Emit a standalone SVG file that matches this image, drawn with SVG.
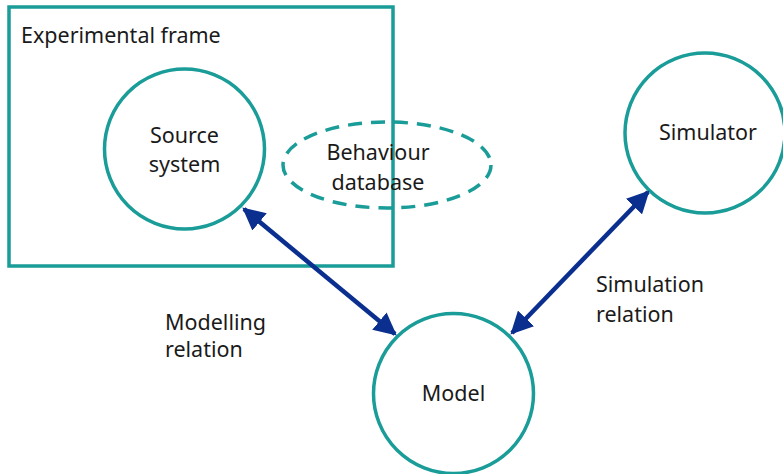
<svg xmlns="http://www.w3.org/2000/svg" width="783" height="474" viewBox="0 0 783 474">
<defs>
<style>
.n{fill:#fff;stroke:#1a9c98;stroke-width:3.5}
.d{fill:none;stroke:#1a9c98;stroke-width:3.5;stroke-dasharray:14 9}
.t{font-family:"Noto Sans","Liberation Sans",sans-serif;font-size:21.5px;fill:#1a1a1a}
.m{text-anchor:middle}
.c{stroke:#0a2f8f;stroke-width:4.5;fill:none}
</style>
<marker id="ah" viewBox="0 0 10 10" refX="9" refY="5" markerWidth="5" markerHeight="5" orient="auto-start-reverse" markerUnits="strokeWidth">
<path d="M0,0 L10,5 L0,10 z" fill="#0a2f8f"/>
</marker>
</defs>
<rect width="783" height="474" fill="#fff"/>
<g id="frame">
<rect x="9" y="7" width="384" height="259" fill="none" stroke="#1a9c98" stroke-width="3.5"/>
<text class="t" x="21" y="43">Experimental frame</text>
</g>
<g id="source">
<circle class="n" cx="184.5" cy="149" r="80"/>
<text class="t m" x="184.5" y="143">Source</text>
<text class="t m" x="184.5" y="172">system</text>
</g>
<g id="database">
<ellipse class="d" cx="387" cy="165" rx="104" ry="43"/>
<text class="t m" x="378" y="160">Behaviour</text>
<text class="t m" x="378" y="190">database</text>
</g>
<g id="simulator">
<circle class="n" cx="705" cy="133" r="80"/>
<text class="t m" x="708" y="140">Simulator</text>
</g>
<g id="model">
<circle class="n" cx="453.5" cy="393.5" r="80"/>
<text class="t m" x="453.5" y="401">Model</text>
</g>
<g id="connectors">
<line class="c" x1="244" y1="209" x2="395" y2="334" marker-start="url(#ah)" marker-end="url(#ah)"/>
<line class="c" x1="648" y1="192" x2="512" y2="333" marker-start="url(#ah)" marker-end="url(#ah)"/>
</g>
<g id="labels">
<text class="t" x="165" y="330">Modelling</text>
<text class="t" x="165" y="357">relation</text>
<text class="t" x="596" y="292">Simulation</text>
<text class="t" x="596" y="322">relation</text>
</g>
</svg>
